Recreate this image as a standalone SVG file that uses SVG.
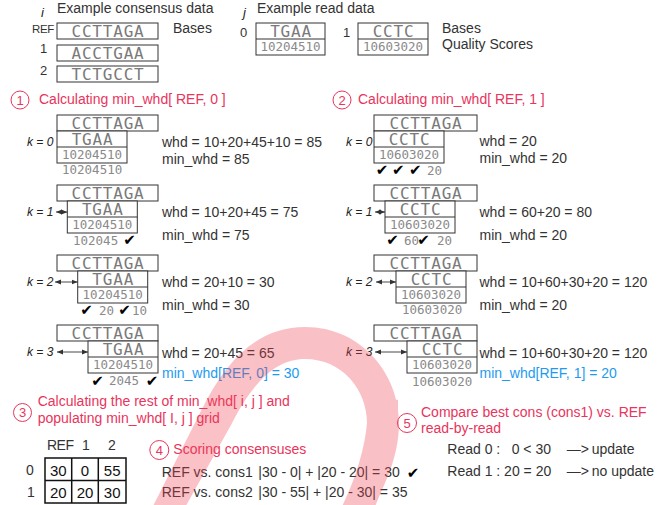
<svg xmlns="http://www.w3.org/2000/svg" width="667" height="505" viewBox="0 0 667 505">
<defs>
<style>
.t{font-family:"Liberation Sans",Arial,sans-serif;font-size:14px;fill:#333}
.s{font-size:13px}
.red{fill:#e9345c}
.blue{fill:#1e9bf0}
.k{font-family:"Liberation Sans",Arial,sans-serif;font-size:12px;font-style:italic;fill:#222}
.mono{font-family:"DejaVu Sans Mono",monospace;font-size:16px;letter-spacing:0.8px;fill:#7a7a7a;text-anchor:middle}
.sc{font-family:"DejaVu Sans Mono",monospace;font-size:12.5px;fill:#8a8a8a}
.scm{font-family:"DejaVu Sans Mono",monospace;font-size:12.5px;fill:#8a8a8a;text-anchor:middle}
.box{fill:#fff;stroke:#333;stroke-width:1}
.ln{stroke:#333;stroke-width:1}
.ck{font-family:"DejaVu Sans",sans-serif;font-size:15px;fill:#000;text-anchor:middle}
.circ{fill:none;stroke:#e9345c;stroke-width:1}
.num{font-family:"Liberation Sans",Arial,sans-serif;font-size:13px;fill:#e9345c;text-anchor:middle}
.arr{stroke:#333;stroke-width:0.9;marker-start:url(#ah);marker-end:url(#ah)}
.tbl{fill:none;stroke:#111;stroke-width:1.5}
.tv{font-family:"Liberation Sans",Arial,sans-serif;font-size:15px;fill:#111;text-anchor:middle}
</style>
<marker id="ah" viewBox="0 0 6 6" refX="6" refY="3" markerWidth="6" markerHeight="6" markerUnits="userSpaceOnUse" orient="auto-start-reverse">
<path d="M0,0.5 L6,3 L0,5.5 z" fill="#333"/>
</marker>
</defs>
<rect width="667" height="505" fill="#fff"/>

<g id="consensus-data">
<text class="k" x="41" y="17" style="font-size:13px">i</text>
<text class="t" x="57" y="13">Example consensus data</text>
<text class="t" x="32" y="33" style="font-size:11.5px;letter-spacing:-0.4px">REF</text>
<text class="t s" x="40" y="53">1</text>
<text class="t s" x="40" y="75">2</text>
<rect class="box" x="57" y="23" width="101" height="16"/>
<text class="mono" x="108" y="37">CCTTAGA</text>
<rect class="box" x="57" y="45" width="101" height="16"/>
<text class="mono" x="108" y="59">ACCTGAA</text>
<rect class="box" x="57" y="66" width="101" height="16"/>
<text class="mono" x="108" y="80">TCTGCCT</text>
<text class="t" x="173" y="33">Bases</text>
</g>

<g id="read-data">
<text class="k" x="243" y="17" style="font-size:13px">j</text>
<text class="t" x="257" y="13">Example read data</text>
<text class="t s" x="240" y="37">0</text>
<rect class="box" x="256" y="23" width="69" height="32"/>
<line class="ln" x1="256" y1="39" x2="325" y2="39"/>
<text class="mono" x="291" y="37">TGAA</text>
<text class="scm" x="290.5" y="50.7">10204510</text>
<text class="t s" x="343" y="37">1</text>
<rect class="box" x="358" y="23" width="70" height="32"/>
<line class="ln" x1="358" y1="39" x2="428" y2="39"/>
<text class="mono" x="393.5" y="37">CCTC</text>
<text class="scm" x="393" y="50.7">10603020</text>
<text class="t" x="442" y="33">Bases</text>
<text class="t" x="442" y="49">Quality Scores</text>
</g>

<g id="section1">
<circle class="circ" cx="20" cy="100" r="9"/>
<text class="num" x="20" y="104.5">1</text>
<text class="t red" x="39" y="104">Calculating min_whd[ REF, 0 ]</text>

<g id="s1-k0">
<text class="k" x="27" y="145.5">k = 0</text>
<rect class="box" x="57" y="115" width="101" height="16"/>
<text class="mono" x="108" y="129">CCTTAGA</text>
<rect class="box" x="57" y="131" width="70" height="32"/>
<line class="ln" x1="57" y1="147" x2="127" y2="147"/>
<text class="mono" x="92.5" y="145">TGAA</text>
<text class="scm" x="92" y="158.7">10204510</text>
<text class="sc" x="62" y="174">10204510</text>
<text class="t" x="162" y="147">whd = 10+20+45+10 = 85</text>
<text class="t" x="162" y="164">min_whd = 85</text>
</g>

<g id="s1-k1">
<text class="k" x="27" y="215.5">k = 1</text>
<rect class="box" x="57" y="185" width="101" height="16"/>
<text class="mono" x="108" y="199">CCTTAGA</text>
<rect class="box" x="67.3" y="201" width="70" height="32"/>
<line class="ln" x1="67.3" y1="217" x2="137.3" y2="217"/>
<text class="mono" x="102.8" y="215">TGAA</text>
<text class="scm" x="102.3" y="228.7">10204510</text>
<text class="sc" x="73" y="244.5">102045</text>
<text class="ck" x="129.5" y="245">✔</text>
<text class="t" x="162" y="217">whd = 10+20+45 = 75</text>
<text class="t" x="162" y="239.5">min_whd = 75</text>
</g>

<g id="s1-k2">
<text class="k" x="27" y="285.5">k = 2</text>
<rect class="box" x="57" y="255" width="101" height="16"/>
<text class="mono" x="108" y="269">CCTTAGA</text>
<rect class="box" x="77.7" y="271" width="70" height="32"/>
<line class="ln" x1="77.7" y1="287" x2="147.7" y2="287"/>
<text class="mono" x="113.2" y="285">TGAA</text>
<text class="scm" x="112.7" y="298.7">10204510</text>
<text class="ck" x="86.5" y="315">✔</text>
<text class="sc" x="99" y="314.5">20</text>
<text class="ck" x="124.5" y="315">✔</text>
<text class="sc" x="132" y="314.5">10</text>
<text class="t" x="162" y="287">whd = 20+10 = 30</text>
<text class="t" x="162" y="310">min_whd = 30</text>
</g>

<g id="s1-k3">
<text class="k" x="27" y="355.5">k = 3</text>
<rect class="box" x="57" y="325" width="101" height="16"/>
<text class="mono" x="108" y="339">CCTTAGA</text>
<rect class="box" x="88" y="341" width="70" height="32"/>
<line class="ln" x1="88" y1="357" x2="158" y2="357"/>
<text class="mono" x="123.5" y="355">TGAA</text>
<text class="scm" x="123" y="368.7">10204510</text>
<text class="ck" x="97.5" y="385.5">✔</text>
<text class="sc" x="109" y="385">2045</text>
<text class="ck" x="152" y="385.5">✔</text>
<text class="t" x="162" y="357.5">whd = 20+45 = 65</text>
<text class="t blue" x="162" y="378">min_whd[REF, 0] = 30</text>
</g>
</g>

<g id="section2">
<circle class="circ" cx="342" cy="100" r="9"/>
<text class="num" x="342" y="104.5">2</text>
<text class="t red" x="358" y="104">Calculating min_whd[ REF, 1 ]</text>

<g id="s2-k0">
<text class="k" x="346" y="145.5">k = 0</text>
<rect class="box" x="374" y="115" width="103" height="16"/>
<text class="mono" x="426" y="129">CCTTAGA</text>
<rect class="box" x="374" y="131" width="70" height="32"/>
<line class="ln" x1="374" y1="147" x2="444" y2="147"/>
<text class="mono" x="409.5" y="145">CCTC</text>
<text class="scm" x="409" y="158.7">10603020</text>
<text class="ck" x="382" y="175">✔</text>
<text class="ck" x="398.3" y="175">✔</text>
<text class="ck" x="415.3" y="175">✔</text>
<text class="sc" x="427" y="174.5">20</text>
<text class="t" x="479.5" y="146">whd = 20</text>
<text class="t" x="479.5" y="163">min_whd = 20</text>
</g>

<g id="s2-k1">
<text class="k" x="346" y="215.5">k = 1</text>
<rect class="box" x="374" y="185" width="103" height="16"/>
<text class="mono" x="426" y="199">CCTTAGA</text>
<rect class="box" x="385" y="201" width="70" height="32"/>
<line class="ln" x1="385" y1="217" x2="455" y2="217"/>
<text class="mono" x="420.5" y="215">CCTC</text>
<text class="scm" x="420" y="228.7">10603020</text>
<text class="ck" x="392.5" y="245">✔</text>
<text class="sc" x="404" y="244.5">60</text>
<text class="ck" x="423.5" y="245">✔</text>
<text class="sc" x="437" y="244.5">20</text>
<text class="t" x="479.5" y="217">whd = 60+20 = 80</text>
<text class="t" x="479.5" y="239.5">min_whd = 20</text>
</g>

<g id="s2-k2">
<text class="k" x="346" y="285.5">k = 2</text>
<rect class="box" x="374" y="255" width="103" height="16"/>
<text class="mono" x="426" y="269">CCTTAGA</text>
<rect class="box" x="396" y="271" width="70" height="32"/>
<line class="ln" x1="396" y1="287" x2="466" y2="287"/>
<text class="mono" x="431.5" y="285">CCTC</text>
<text class="scm" x="431" y="298.7">10603020</text>
<text class="sc" x="402" y="314">10603020</text>
<text class="t" x="479.5" y="287">whd = 10+60+30+20 = 120</text>
<text class="t" x="479.5" y="310">min_whd = 20</text>
</g>

<g id="s2-k3">
<text class="k" x="346" y="355.5">k = 3</text>
<rect class="box" x="374" y="325" width="103" height="16"/>
<text class="mono" x="426" y="339">CCTTAGA</text>
<rect class="box" x="407" y="341" width="70" height="32"/>
<line class="ln" x1="407" y1="357" x2="477" y2="357"/>
<text class="mono" x="442.5" y="355">CCTC</text>
<text class="scm" x="442" y="368.7">10603020</text>
<text class="sc" x="412" y="386">10603020</text>
<text class="t" x="479.5" y="357.5">whd = 10+60+30+20 = 120</text>
<text class="t blue" x="479.5" y="378">min_whd[REF, 1] = 20</text>
</g>
</g>

<g id="connectors">
<line class="arr" x1="56" y1="212" x2="67.3" y2="212"/>
<line class="arr" x1="55" y1="282" x2="77.7" y2="282"/>
<line class="arr" x1="57" y1="352" x2="88" y2="352"/>
<line class="arr" x1="375" y1="212" x2="385" y2="212"/>
<line class="arr" x1="376" y1="282" x2="396" y2="282"/>
<line class="arr" x1="375" y1="352" x2="407" y2="352"/>
</g>

<g id="section3">
<circle class="circ" cx="22.5" cy="412.5" r="9"/>
<text class="num" x="22.5" y="417">3</text>
<text class="t red" x="37.7" y="406">Calculating the rest of min_whd[ i, j ] and</text>
<text class="t red" x="37.7" y="423.3">populating min_whd[ I, j ] grid</text>
<g id="grid">
<text class="t" x="47" y="450" style="letter-spacing:-0.5px">REF</text>
<text class="t" x="82" y="450">1</text>
<text class="t" x="108" y="450">2</text>
<text class="t" x="26" y="475">0</text>
<text class="t" x="27" y="497">1</text>
<rect class="tbl" x="45" y="458" width="81" height="45"/>
<line class="tbl" x1="71.7" y1="458" x2="71.7" y2="503"/>
<line class="tbl" x1="98.3" y1="458" x2="98.3" y2="503"/>
<line class="tbl" x1="45" y1="480.5" x2="126" y2="480.5"/>
<text class="tv blue" x="58.3" y="475.5">30</text>
<text class="tv" x="85" y="475.5">0</text>
<text class="tv" x="112.2" y="475.5">55</text>
<text class="tv blue" x="58.3" y="497.5">20</text>
<text class="tv" x="85" y="497.5">20</text>
<text class="tv" x="112.2" y="497.5">30</text>
</g>
</g>

<g id="section4">
<circle class="circ" cx="159.3" cy="450" r="9.5"/>
<text class="num" x="159.3" y="454.5">4</text>
<text class="t red" x="173.3" y="454">Scoring consensuses</text>
<text class="t" x="161.7" y="477">REF vs. cons1</text>
<text class="t" x="258.3" y="477">|30 - 0| + |20 - 20| = 30</text>
<text class="ck" x="413" y="477.5">✔</text>
<text class="t" x="161.7" y="497">REF vs. cons2</text>
<text class="t" x="258.3" y="497">|30 - 55| + |20 - 30| = 35</text>
</g>

<g id="section5">
<circle class="circ" cx="407" cy="423" r="9.5"/>
<text class="num" x="407" y="427.5">5</text>
<text class="t red" x="421" y="416.7">Compare best cons (cons1) vs. REF</text>
<text class="t red" x="421" y="433.3">read-by-read</text>
<text class="t" x="447.3" y="454">Read 0 :</text>
<text class="t" x="511.7" y="454">0 &lt; 30</text>
<text class="t" x="566.7" y="454">—&gt;</text>
<text class="t" x="591.7" y="454">update</text>
<text class="t" x="447.3" y="475.7">Read 1 : 20 = 20</text>
<text class="t" x="566.7" y="475.7">—&gt;</text>
<text class="t" x="591.7" y="475.7">no update</text>
</g>

<g id="watermark" opacity="0.32">
<path fill="#ee3f52" d="M146 520 L201 411 C229 354 262 327 305 327 C362 327 400 375 399 425 C398 463 381 492 367 520 L337 520 C350 490 367 458 367 425 C368 391 343 359 305 359 C278 359 255 378 231 425 L178 520 Z"/>
<path fill="none" stroke="#ee3f52" stroke-width="30" d="M383 400 C384 445 370 485 352 520"/>
</g>
</svg>
